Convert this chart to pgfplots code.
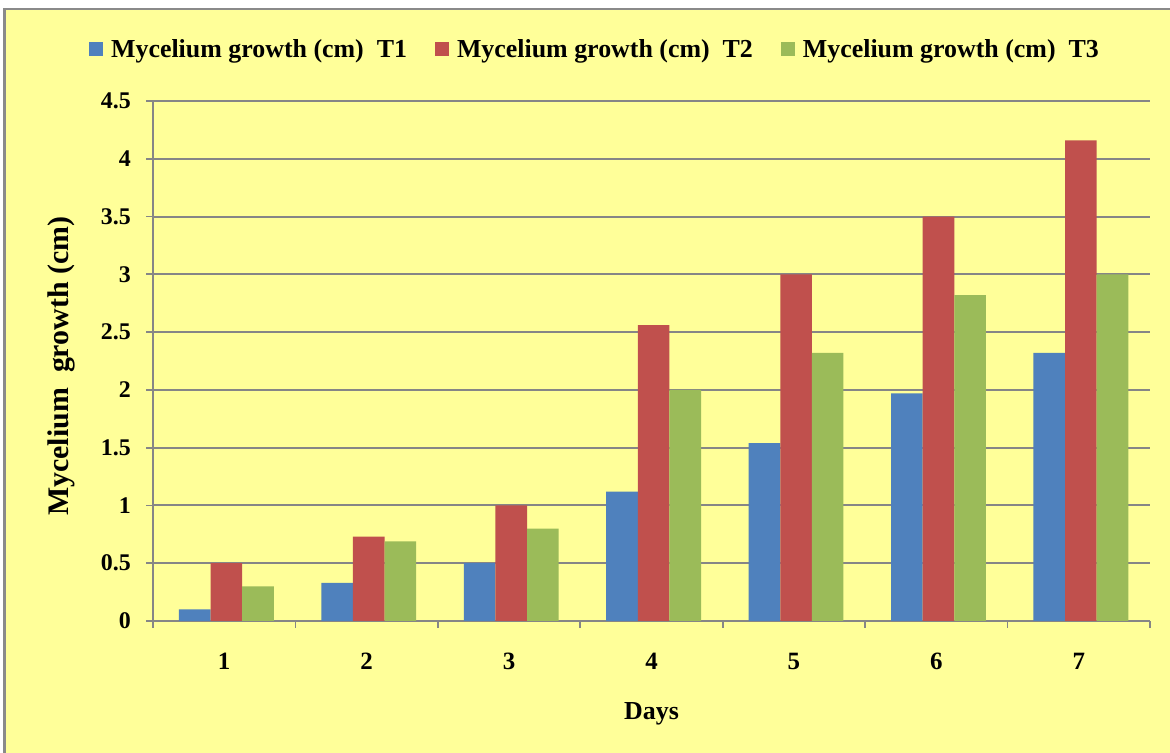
\documentclass[border=0pt]{standalone}
\usepackage{pgfplots}
\pgfplotsset{compat=1.18}
\usepackage{fontspec}
\setmainfont{Liberation Serif}
\definecolor{bgyellow}{HTML}{FFFF99}
\definecolor{framegray}{HTML}{8A8A8A}
\definecolor{gridgray}{HTML}{868686}
\definecolor{bblue}{HTML}{4F81BD}
\definecolor{bred}{HTML}{C0504D}
\definecolor{bgreen}{HTML}{9BBB59}
\begin{document}
\begin{tikzpicture}[x=1bp,y=1bp]
\useasboundingbox (0,0) rectangle (1170,753);
\clip (0,0) rectangle (1170,753);
\fill[white] (0,0) rectangle (1170,753);
\filldraw[fill=bgyellow, draw=framegray, line width=2.5bp] (4.5,-20) rectangle (1190,744);
\begin{axis}[
  at={(153bp,132bp)}, anchor=south west,
  scale only axis, width=997bp, height=520bp,
  ybar=0pt, bar width=0.222,
  xmin=0.5, xmax=7.5, ymin=0, ymax=4.5,
  xtick={1,2,3,4,5,6,7},
  xticklabels={1,2,3,4,5,6,7},
  major x tick style={draw=none},
  minor xtick={0.5,1.5,2.5,3.5,4.5,5.5,6.5,7.5},
  minor tick length=7bp,
  ytick={0,0.5,1,1.5,2,2.5,3,3.5,4,4.5},
  yticklabels={0,0.5,1,1.5,2,2.5,3,3.5,4,4.5},
  major tick length=7bp,
  tick align=outside,
  tick style={gridgray, line width=1.8bp},
  ymajorgrids, 
  major grid style={gridgray, line width=2bp},
  axis x line*=bottom, axis y line*=left,
  axis line style={gridgray, line width=2.2bp, -},
  yticklabel style={font=\fontsize{24}{27}\selectfont\bfseries, anchor=east, inner sep=0pt, xshift=-15bp},
  xticklabel style={font=\fontsize{25}{28}\selectfont\bfseries, anchor=center, yshift=-33bp},
  xlabel={Days},
  ylabel={Mycelium\ \ growth (cm)},
  xlabel style={font=\fontsize{26}{30}\selectfont\bfseries, at={(axis description cs:0.5,-0.179)}, anchor=center},
  ylabel style={font=\fontsize{30}{34}\selectfont\bfseries, at={(axis description cs:-0.092,0.49)}, anchor=center},
  legend columns=3,
  legend image code/.code={\fill[#1] (0bp,-7bp) rectangle (14bp,7bp);},
  legend style={at={(axis description cs:0.4423,1.1)}, anchor=center, draw=none, fill=none,
    font=\fontsize{26}{30}\selectfont\bfseries, nodes={inner sep=0pt},
    /tikz/every odd column/.append style={column sep=8bp},
    /tikz/every even column/.append style={column sep=28bp}},
  clip=false,
]
\addplot[fill=bblue, draw=none, bar shift=-0.207] coordinates {(1,0.10) (2,0.33) (3,0.50) (4,1.12) (5,1.54) (6,1.97) (7,2.32)};
\addplot[fill=bred, draw=none, bar shift=0.015] coordinates {(1,0.50) (2,0.73) (3,1.00) (4,2.56) (5,3.00) (6,3.50) (7,4.16)};
\addplot[fill=bgreen, draw=none, bar shift=0.237] coordinates {(1,0.30) (2,0.69) (3,0.80) (4,2.00) (5,2.32) (6,2.82) (7,3.00)};
\legend{Mycelium growth (cm)\ \ T1, Mycelium growth (cm)\ \ T2, Mycelium growth (cm)\ \ T3}
\end{axis}
\end{tikzpicture}
\end{document}
